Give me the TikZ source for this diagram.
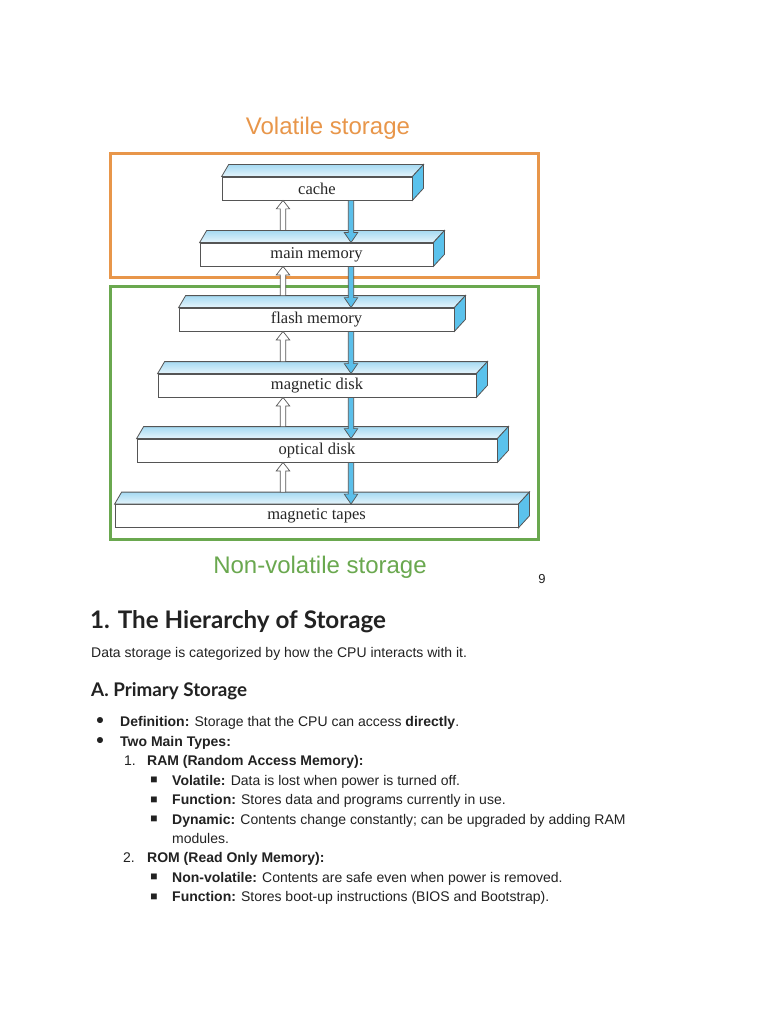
\documentclass[tikz,border=0pt]{standalone}
\usepackage{fontspec}
\setmainfont{Liberation Sans}
\newfontfamily\barfont{Liberation Serif}
\newfontfamily\headfont{Lato}
\usetikzlibrary{calc}
\definecolor{volorange}{HTML}{E8964A}
\definecolor{nvgreen}{HTML}{6AA84F}
\definecolor{sidebl}{HTML}{5BC2EC}
\definecolor{topbl}{HTML}{A6DAF2}
\definecolor{topwh}{HTML}{E6F5FC}
\definecolor{edgegray}{HTML}{555555}
\definecolor{arrbl}{HTML}{5BBFEA}
\definecolor{txtc}{HTML}{222222}
\newcommand\barfaces[1]{%
  \shadedraw[top color=topbl, bottom color=topwh, draw=edgegray, line width=0.8pt]
    (#1.north west) -- ++(7,-12) -- ([shift={(11,-12)}]#1.north east) -- (#1.north east) -- cycle;
  \filldraw[fill=sidebl, draw=edgegray, line width=0.8pt]
    (#1.north east) -- ++(11,-12) -- ([shift={(11,-12)}]#1.south east) -- (#1.south east) -- cycle;}
\newcommand\uparr[2]{%
  \path[draw=edgegray, fill=white, line width=0.7pt] let \p1=([yshift=12pt]#1.north), \p2=(#2.south) in
    (280.3pt,\y1) -- (280.3pt,\y2-8.5pt) -- (276.3pt,\y2-8.5pt) -- (283pt,\y2) -- (289.7pt,\y2-8.5pt)
    -- (285.7pt,\y2-8.5pt) -- (285.7pt,\y1) -- cycle;}
\newcommand\downarr[2]{%
  \path[draw=edgegray, fill=arrbl, line width=0.7pt] let \p1=(#1.south), \p2=(#2.north) in
    (348.3pt,\y1) -- (348.3pt,\y2+10pt) -- (344.3pt,\y2+10pt) -- (351pt,\y2) -- (357.7pt,\y2+10pt)
    -- (353.7pt,\y2+10pt) -- (353.7pt,\y1) -- cycle;}
\begin{document}
\begin{tikzpicture}[x=1pt,y=-1pt,
  bar/.style={draw=edgegray, fill=white, line width=0.8pt, minimum height=23pt, inner sep=0pt,
    font=\barfont\fontsize{16.5}{18}\selectfont, text=black!85},
  frame/.style={line width=3pt},
  bigtitle/.style={anchor=base, inner sep=0pt, font=\fontsize{24}{28}\selectfont},
  line/.style={anchor=base west, inner sep=0pt, text=txtc, font=\fontsize{14}{16}\selectfont},
  dot/.style={inner sep=0pt, text=txtc, font=\fontsize{14}{14}\selectfont},
  sq/.style={inner sep=0pt, text=txtc, font=\fontsize{12}{12}\selectfont}]
\useasboundingbox[fill=white] (0,0) rectangle (768,1024);

% frames
\draw[frame, volorange] (110,153.5) rectangle (538.5,277.5);
\draw[frame, nvgreen] (110,286) rectangle (538.5,539.5);
\node[bigtitle, text=volorange] (voltitle) at (328,135) {Volatile storage};
\node[bigtitle, text=nvgreen] (nvtitle) at (320,573) {Non-volatile storage};
\node[anchor=base, inner sep=0pt, text=txtc, font=\fontsize{13}{15}\selectfont] (pagenum) at (542,583) {9};

% bars
\node[bar, minimum width=190pt] (cache) at (317,188.5) {cache};
\node[bar, minimum width=233pt] (main) at (316.5,254.5) {main memory};
\node[bar, minimum width=275pt] (flash) at (316.5,319.5) {flash memory};
\node[bar, minimum width=318pt] (magdisk) at (317,385.5) {magnetic disk};
\node[bar, minimum width=360pt] (optical) at (317,450.5) {optical disk};
\node[bar, minimum width=403pt] (tapes) at (316.5,516) {magnetic tapes};
\barfaces{cache}\barfaces{main}\barfaces{flash}\barfaces{magdisk}\barfaces{optical}\barfaces{tapes}

% arrows
\uparr{main}{cache}\uparr{flash}{main}\uparr{magdisk}{flash}\uparr{optical}{magdisk}\uparr{tapes}{optical}
\downarr{cache}{main}\downarr{main}{flash}\downarr{flash}{magdisk}\downarr{magdisk}{optical}\downarr{optical}{tapes}

% text
\node[anchor=base west, inner sep=0pt, text=txtc, font=\headfont\bfseries\fontsize{24.2}{28}\selectfont] (h1) at (90,628) {1. The Hierarchy of Storage};
\node[line] (intro) at (91,657) {Data storage is categorized by how the CPU interacts with it.};
\node[anchor=base west, inner sep=0pt, text=txtc, font=\headfont\bfseries\fontsize{18.8}{22}\selectfont] (h2) at (91,696) {A. Primary Storage};

\node[dot] (b1) at (100,721.5) {●};
\node[line] (l1) at (120,726) {\textbf{Definition:} Storage that the CPU can access \textbf{directly}.};
\node[dot] (b2) at (100,741) {●};
\node[line] (l2) at (120,746) {\textbf{Two Main Types:}};
\node[line] (n1) at (124,765) {1.};
\node[line] (l3) at (147,765) {\textbf{RAM (Random Access Memory):}};
\node[sq] (s1) at (154,780.5) {■};
\node[line] (l4) at (172,785) {\textbf{Volatile:} Data is lost when power is turned off.};
\node[sq] (s2) at (154,800) {■};
\node[line] (l5) at (172,804) {\textbf{Function:} Stores data and programs currently in use.};
\node[sq] (s3) at (154,819.5) {■};
\node[line] (l6) at (172,824) {\textbf{Dynamic:} Contents change constantly; can be upgraded by adding RAM};
\node[line] (l7) at (172,843) {modules.};
\node[line] (n2) at (123,862) {2.};
\node[line] (l8) at (147,862) {\textbf{ROM (Read Only Memory):}};
\node[sq] (s4) at (154,877.5) {■};
\node[line] (l9) at (172,882) {\textbf{Non-volatile:} Contents are safe even when power is removed.};
\node[sq] (s5) at (154,897) {■};
\node[line] (l10) at (172,901) {\textbf{Function:} Stores boot-up instructions (BIOS and Bootstrap).};
\end{tikzpicture}
\end{document}
